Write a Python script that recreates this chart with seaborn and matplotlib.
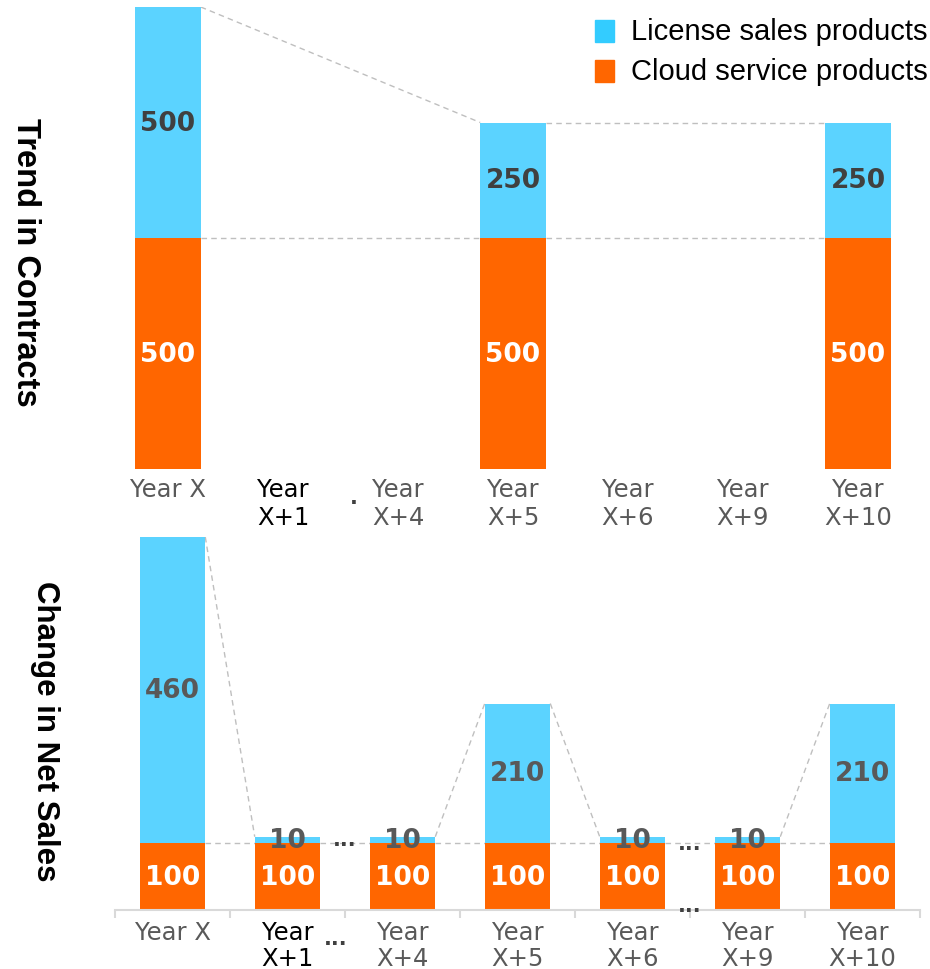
import matplotlib
matplotlib.use("Agg")
import matplotlib.pyplot as plt
from matplotlib.patches import Rectangle
import seaborn as sns
import pandas as pd

# ---------------- data ----------------
categories = ["Year X", "Year\nX+1", "Year\nX+4", "Year\nX+5", "Year\nX+6", "Year\nX+9", "Year\nX+10"]
label_colors = ["#595959", "#000000", "#595959", "#595959", "#595959", "#595959", "#595959"]

top_years = ["Year X", "Year\nX+5", "Year\nX+10"]
top_cloud = [500, 500, 500]
top_license = [500, 250, 250]

bot_years = categories
bot_cloud = [100, 100, 100, 100, 100, 100, 100]
bot_license = [460, 10, 10, 210, 10, 10, 210]
# pairs of consecutive bars whose tops are linked (the others are separated by "...")
bot_total_links = [(0, 1), (2, 3), (3, 4), (5, 6)]

LIC = "#5BD3FF"
CLD = "#FF6600"
LIC_LEG = "#33CCFF"
DASH = "#BFBFBF"
W = 0.57

sns.set_theme(style="white")
plt.rcParams["font.family"] = ["DejaVu Sans"]

fig = plt.figure(figsize=(9.3, 9.7), dpi=100)
FW, FH = 930.0, 970.0
ax_top = fig.add_axes([110.5 / FW, 1 - 470 / FH, 805 / FW, 462 / FH])
ax_bot = fig.add_axes([115 / FW, 1 - 911 / FH, 805 / FW, 373 / FH])


def draw_panel(ax, years, cloud, lic, lic_color_txt, total_links, ymax, lsp):
    df = pd.DataFrame({"year": years, "cloud": cloud, "license": lic})
    df["total"] = df["cloud"] + df["license"]
    sns.barplot(data=df, x="year", y="total", order=categories, color=LIC,
                saturation=1, width=W, errorbar=None, linewidth=0, ax=ax)
    sns.barplot(data=df, x="year", y="cloud", order=categories, color=CLD,
                saturation=1, width=W, errorbar=None, linewidth=0, ax=ax)
    pos = [categories.index(y) for y in years]
    # value labels
    for p, c, l in zip(pos, cloud, lic):
        ax.text(p, c / 2, f"{c}", ha="center", va="center", color="white",
                fontsize=19, fontweight="bold", zorder=5)
        ax.text(p, c + l / 2, f"{l}", ha="center", va="center", color=lic_color_txt,
                fontsize=19, fontweight="bold", zorder=5)
    # dashed connectors
    tot = [c + l for c, l in zip(cloud, lic)]
    for i in range(len(pos) - 1):
        x0, x1 = pos[i] + W / 2, pos[i + 1] - W / 2
        ax.plot([x0, x1], [cloud[i], cloud[i + 1]], color=DASH, lw=1,
                ls=(0, (4, 3)), zorder=0.5)
        if (i, i + 1) in total_links:
            ax.plot([x0, x1], [tot[i], tot[i + 1]], color=DASH, lw=1,
                    ls=(0, (4, 3)), zorder=0.5)
    ax.set_xlim(-0.5, 6.5)
    ax.set_ylim(0, ymax)
    ax.set_xlabel("")
    ax.set_ylabel("")
    ax.set_yticks([])
    ax.set_xticks(range(len(categories)))
    ax.set_xticklabels(categories, fontsize=17.5, linespacing=lsp, va="top")
    for t, col in zip(ax.get_xticklabels(), label_colors):
        t.set_color(col)
    for s in ["top", "right", "left"]:
        ax.spines[s].set_visible(False)


draw_panel(ax_top, top_years, top_cloud, top_license, "#404040",
           [(0, 1), (1, 2)], 1000, 1.2)
draw_panel(ax_bot, bot_years, bot_cloud, bot_license, "#595959",
           bot_total_links, 560, 1.12)

# top panel: no axis line
ax_top.spines["bottom"].set_visible(False)
ax_top.tick_params(axis="x", length=0, pad=6)

# bottom panel axis line with separators
ax_bot.spines["bottom"].set_color("#D9D9D9")
ax_bot.spines["bottom"].set_linewidth(1.5)
ax_bot.set_xticks([i - 0.5 for i in range(len(categories) + 1)], minor=True)
ax_bot.tick_params(axis="x", which="major", length=0, pad=7)
ax_bot.tick_params(axis="x", which="minor", bottom=True, length=6, width=1.5,
                   color="#D9D9D9", direction="out")

# ellipsis marks
ell = dict(ha="center", va="center", fontsize=15, fontweight="bold",
           color="#404040", clip_on=False)
ax_bot.text(1.5, 106, "...", **ell)
ax_bot.text(4.5, 100, "...", **ell)
ax_bot.text(4.5, 7, "...", **ell)
ax_bot.text(1.42, -42, "...", **ell)
ax_top.text(1.62, -60, ".", ha="center", va="center", fontsize=15,
            fontweight="bold", color="#404040", clip_on=False)

# y titles
fig.text(25 / FW, 1 - 262 / FH, "Trend in Contracts", rotation=270,
         ha="center", va="center", fontsize=23.5, fontweight="bold",
         family=["Liberation Sans"], color="#000000")
fig.text(45 / FW, 1 - 731 / FH, "Change in Net Sales", rotation=270,
         ha="center", va="center", fontsize=22.5, fontweight="bold",
         family=["Liberation Sans"], color="#000000")

# legend
for yc, col, lab in [(32, LIC_LEG, "License sales products"),
                     (72, CLD, "Cloud service products")]:
    fig.patches.append(Rectangle((595 / FW, 1 - (yc + 11) / FH), 19 / FW, 22 / FH,
                                 transform=fig.transFigure, color=col))
    fig.text(631 / FW, 1 - yc / FH, lab, ha="left", va="center", fontsize=21,
             family=["Liberation Sans"], color="#000000")

fig.savefig("out.png", dpi=100)
